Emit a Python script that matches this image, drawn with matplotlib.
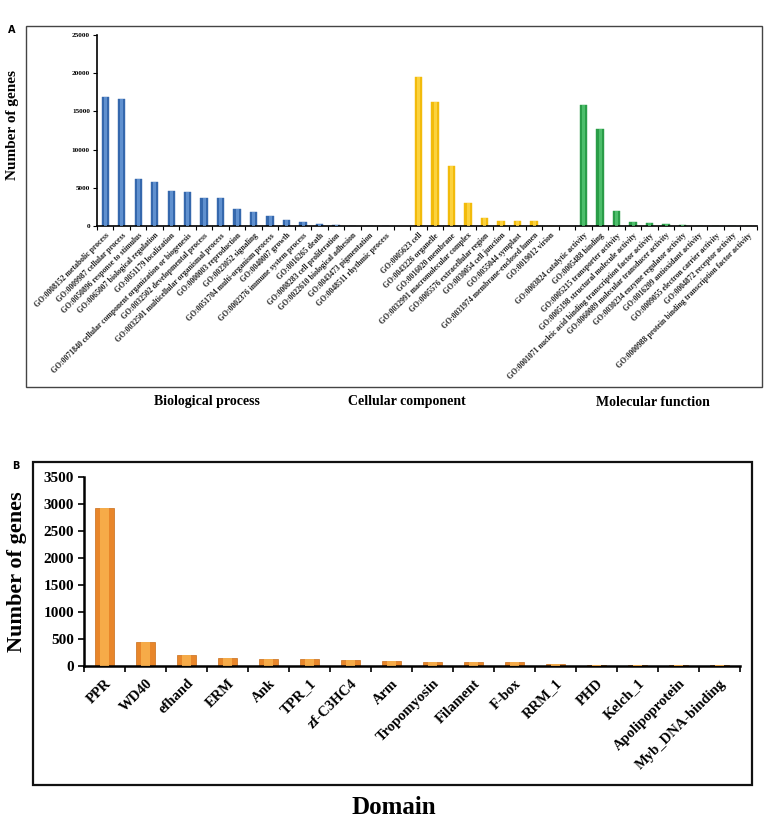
import matplotlib
matplotlib.use("Agg")
import matplotlib.pyplot as plt
from matplotlib.patches import Rectangle
import numpy as np

# ---------------- data ----------------
bp_terms = ["GO:0008152 metabolic process", "GO:0009987 cellular process",
            "GO:0050896 response to stimulus", "GO:0065007 biological regulation",
            "GO:0051179 localization",
            "GO:0071840 cellular component organization or biogenesis",
            "GO:0032502 developmental process", "GO:0032501 multicellular organismal process",
            "GO:0000003 reproduction", "GO:0023052 signaling",
            "GO:0051704 multi-organism process", "GO:0040007 growth",
            "GO:0002376 immune system process", "GO:0016265 death",
            "GO:0008283 cell proliferation", "GO:0022610 biological adhesion",
            "GO:0043473 pigmentation", "GO:0048511 rhythmic process"]
bp_counts = [16900, 16600, 6100, 5700, 4600, 4400, 3700, 3700, 2200, 1800,
             1300, 750, 550, 250, 150, 20, 10, 5]

cc_terms = ["GO:0005623 cell", "GO:0043226 organelle", "GO:0016020 membrane",
            "GO:0032991 macromolecular complex", "GO:0005576 extracellular region",
            "GO:0030054 cell junction", "GO:0055044 symplast",
            "GO:0031974 membrane-enclosed lumen", "GO:0019012 virion"]
cc_counts = [19500, 16200, 7800, 2950, 1050, 650, 650, 650, 10]

mf_terms = ["GO:0003824 catalytic activity", "GO:0005488 binding",
            "GO:0005215 transporter activity", "GO:0005198 structural molecule activity",
            "GO:0001071 nucleic acid binding transcription factor activity",
            "GO:0060089 molecular transducer activity",
            "GO:0030234 enzyme regulator activity", "GO:0016209 antioxidant activity",
            "GO:0009055 electron carrier activity", "GO:0004872 receptor activity",
            "GO:0000988 protein binding transcription factor activity"]
mf_counts = [15800, 12700, 1900, 550, 400, 200, 80, 30, 20, 10, 5]

group_names = ["Biological process", "Cellular component", "Molecular function"]
top_yticks = [0, 5000, 10000, 15000, 20000, 25000]

domains = ["PPR", "WD40", "efhand", "ERM", "Ank", "TPR_1", "zf-C3HC4", "Arm",
           "Tropomyosin", "Filament", "F-box", "RRM_1", "PHD", "Kelch_1",
           "Apolipoprotein", "Myb_DNA-binding"]
domain_counts = [2920, 440, 190, 140, 125, 125, 100, 90, 65, 65, 65, 35, 20, 18, 18, 18]
bottom_yticks = [0, 500, 1000, 1500, 2000, 2500, 3000, 3500]

# ---------------- figure ----------------
W, H = 764, 818
fig = plt.figure(figsize=(W / 100, H / 100), dpi=100)
serif = ["Liberation Serif", "DejaVu Serif"]

def fx(px):
    return px / W

def fy(py):
    return 1 - py / H

# frames
fig.patches.append(Rectangle((fx(26), fy(386.7)), fx(762) - fx(26), fy(25.7) - fy(386.7),
                             transform=fig.transFigure, fill=False, ec="#444444", lw=1.0))
fig.patches.append(Rectangle((fx(32.5), fy(785)), fx(752) - fx(32.5), fy(462) - fy(785),
                             transform=fig.transFigure, fill=False, ec="#111111", lw=1.6))
fig.text(fx(12), fy(30), "A", fontsize=7, fontweight="bold", family="DejaVu Sans",
         ha="center", va="center")
fig.text(fx(16), fy(466), "B", fontsize=7, fontweight="bold", family="DejaVu Sans",
         ha="center", va="center")

# ---------------- panel A ----------------
axA_l, axA_r = 97, 756.75
axA = fig.add_axes([fx(axA_l), fy(226), fx(axA_r) - fx(axA_l), fy(35) - fy(226)])
n_bp, n_cc, n_mf = len(bp_terms), len(cc_terms), len(mf_terms)
pos_bp = np.arange(n_bp)
pos_cc = np.arange(n_cc) + n_bp + 1
pos_mf = np.arange(n_mf) + n_bp + n_cc + 2
n_slots = n_bp + n_cc + n_mf + 2

bw = 0.45
for pos, vals, base, hi in [(pos_bp, bp_counts, "#3568ad", "#6a9bd8"),
                            (pos_cc, cc_counts, "#f2bb0c", "#ffd84a"),
                            (pos_mf, mf_counts, "#2a9d48", "#57c774")]:
    axA.bar(pos, vals, width=bw, color=base, edgecolor=base, lw=0.3, zorder=2)
    axA.bar(pos, vals, width=bw * 0.4, color=hi, lw=0, alpha=0.8, zorder=3)

axA.set_xlim(-0.5, n_slots - 0.5)
axA.set_ylim(0, 25000)
axA.set_yticks(top_yticks)
axA.set_yticklabels([str(v) for v in top_yticks], fontsize=5.2, fontweight="bold",
                    family=serif)
all_pos = list(pos_bp) + list(pos_cc) + list(pos_mf)
all_terms = bp_terms + cc_terms + mf_terms
axA.set_xticks(all_pos)
axA.set_xticklabels(all_terms, rotation=45, ha="right", va="top",
                    rotation_mode="anchor", fontsize=5.6, fontweight="bold", family=serif,
                    color="#222222")
axA.set_xticks(np.arange(-0.5, n_slots, 1.0), minor=True)
axA.tick_params(axis="x", which="major", length=0, pad=4)
axA.tick_params(axis="x", which="minor", length=3, width=0.8, direction="out")
axA.tick_params(axis="y", length=3, width=0.8, direction="out", pad=2)
for s in ["top", "right"]:
    axA.spines[s].set_visible(False)
for s in ["left", "bottom"]:
    axA.spines[s].set_linewidth(1.2)
axA.set_ylabel("Number of genes", fontsize=11, fontweight="bold", family=serif)
axA.yaxis.set_label_coords((fx(19) - fx(axA_l)) / (fx(axA_r) - fx(axA_l)), 0.53)

group_x = [206.7, 406.7, 653]
for gx, name in zip(group_x, group_names):
    fig.text(fx(gx), fy(402), name, fontsize=10, fontweight="bold", family=serif,
             ha="center", va="center")

# ---------------- panel B ----------------
axB_l, axB_r = 84, 740
axB = fig.add_axes([fx(axB_l), fy(665.7), fx(axB_r) - fx(axB_l), fy(476.7) - fy(665.7)])
xb = np.arange(len(domains))
axB.bar(xb, domain_counts, width=0.45, color="#e8862a", edgecolor="#c96d18", lw=0.5, zorder=2)
axB.bar(xb, domain_counts, width=0.45 * 0.45, color="#f9b24e", lw=0, alpha=0.85, zorder=3)
axB.set_xlim(-0.5, len(domains) - 0.5)
axB.set_ylim(0, 3500)
axB.set_yticks(bottom_yticks)
axB.set_yticklabels([str(v) for v in bottom_yticks], fontsize=11, fontweight="bold",
                    family=serif)
axB.set_xticks(xb)
axB.set_xticklabels(domains, rotation=45, ha="right", va="top", rotation_mode="anchor",
                    fontsize=10.5, fontweight="bold", family=serif)
axB.set_xticks(np.arange(-0.5, len(domains), 1.0), minor=True)
axB.tick_params(axis="x", which="major", length=0, pad=8)
axB.tick_params(axis="x", which="minor", length=4, width=1.2, direction="out")
axB.tick_params(axis="y", length=4, width=1.2, direction="out", pad=3)
for s in ["top", "right"]:
    axB.spines[s].set_visible(False)
for s in ["left", "bottom"]:
    axB.spines[s].set_linewidth(1.8)
axB.set_ylabel("Number of genes", fontsize=16, fontweight="bold", family=serif)
axB.yaxis.set_label_coords((fx(27) - fx(axB_l)) / (fx(axB_r) - fx(axB_l)), 0.5)
fig.text(fx(394), fy(808), "Domain", fontsize=18, fontweight="bold", family=serif,
         ha="center", va="center")

fig.savefig("out.png", dpi=100)
